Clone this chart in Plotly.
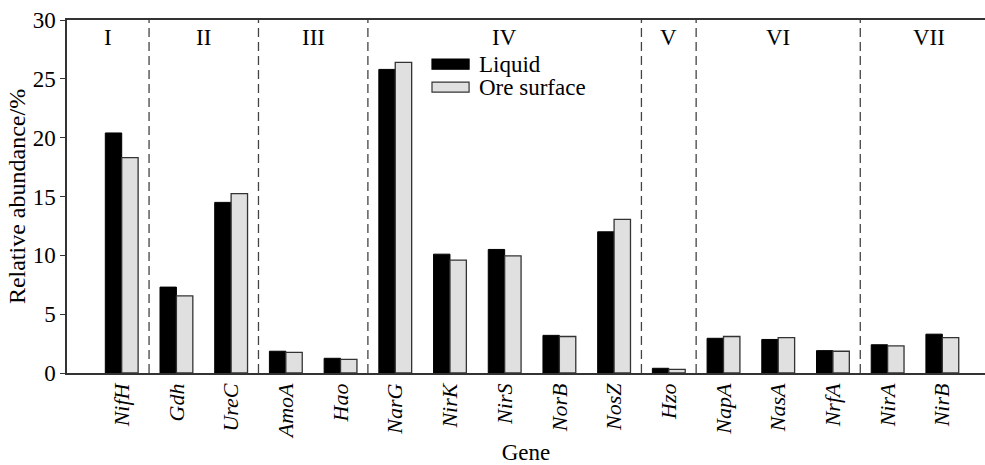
import plotly.graph_objects as go

genes = ["NifH", "Gdh", "UreC", "AmoA", "Hao", "NarG", "NirK", "NirS", "NorB", "NosZ",
         "Hzo", "NapA", "NasA", "NrfA", "NirA", "NirB"]
liquid = [20.4, 7.3, 14.5, 1.85, 1.25, 25.8, 10.1, 10.5, 3.2, 12.0,
          0.4, 2.95, 2.85, 1.9, 2.4, 3.3]
ore_surface = [18.3, 6.55, 15.25, 1.75, 1.15, 26.4, 9.6, 9.95, 3.1, 13.05,
               0.3, 3.1, 3.0, 1.85, 2.3, 3.0]
group_labels = ["I", "II", "III", "IV", "V", "VI", "VII"]
group_sizes = [1, 2, 2, 5, 1, 3, 2]
y_ticks = [0, 5, 10, 15, 20, 25, 30]

FONT = "Liberation Serif"
xs = list(range(len(genes)))

fig = go.Figure()
fig.add_trace(go.Bar(x=xs, y=liquid, name="Liquid",
                     marker=dict(color="black", line=dict(color="black", width=1))))
fig.add_trace(go.Bar(x=xs, y=ore_surface, name="Ore surface",
                     marker=dict(color="#e0e0e0", line=dict(color="#333333", width=1.3))))

x_min, x_max = -1, 15.78
shapes = []
annotations = []
start = -0.5
bounds = [x_min]
for i, s in enumerate(group_sizes):
    end = start + s
    bounds.append(end if i < len(group_sizes) - 1 else 16)
    start = end
for i, lab in enumerate(group_labels):
    left, right = bounds[i], bounds[i + 1]
    if i > 0:
        shapes.append(dict(type="line", xref="x", yref="paper", x0=left, x1=left, y0=0, y1=1,
                           line=dict(color="#444444", width=1.3, dash="9px,5px")))
    annotations.append(dict(x=(left + right) / 2, y=0.95, xref="x", yref="paper",
                            text=lab, showarrow=False, xanchor="center", yanchor="middle",
                            font=dict(family=FONT, size=23, color="black")))

# custom legend (wide swatches as in the reference)
leg_items = [("Liquid", "black", "black"), ("Ore surface", "#e0e0e0", "#333333")]
for k, (name, fill, edge) in enumerate(leg_items):
    yc = 0.875 - k * 0.065
    shapes.append(dict(type="rect", xref="paper", yref="paper",
                       x0=0.3976, x1=0.438, y0=yc - 0.0142, y1=yc + 0.0142,
                       fillcolor=fill, line=dict(color=edge, width=1.2)))
    annotations.append(dict(x=0.4465, y=yc, xref="paper", yref="paper", text=name,
                            showarrow=False, xanchor="left", yanchor="middle",
                            font=dict(family=FONT, size=23, color="black")))

fig.update_layout(
    width=985, height=465,
    margin=dict(l=67, r=0, t=20, b=92),
    paper_bgcolor="white", plot_bgcolor="white",
    barmode="group", bargap=0.4, bargroupgap=0,
    showlegend=False,
    font=dict(family=FONT, size=23, color="black"),
    shapes=shapes, annotations=annotations,
)
fig.update_xaxes(
    range=[x_min, x_max], tickmode="array", tickvals=xs,
    ticktext=[f"<i>{g}</i>" for g in genes], tickangle=-90,
    tickfont=dict(family=FONT, size=22, color="black"),
    showline=True, linecolor="#333333", linewidth=1.5, mirror=True,
    ticks="", showgrid=False, zeroline=False,
    title=dict(text="Gene", font=dict(family=FONT, size=23), standoff=10),
)
fig.update_yaxes(
    range=[0, 30], tickvals=y_ticks, ticks="outside", ticklen=5, tickcolor="#333333",
    tickfont=dict(family=FONT, size=23, color="black"),
    showline=True, linecolor="#333333", linewidth=1.5, showgrid=False, zeroline=False,
    title=dict(text="Relative abundance/%", font=dict(family=FONT, size=24), standoff=0),
)

fig.write_html("out.html")
